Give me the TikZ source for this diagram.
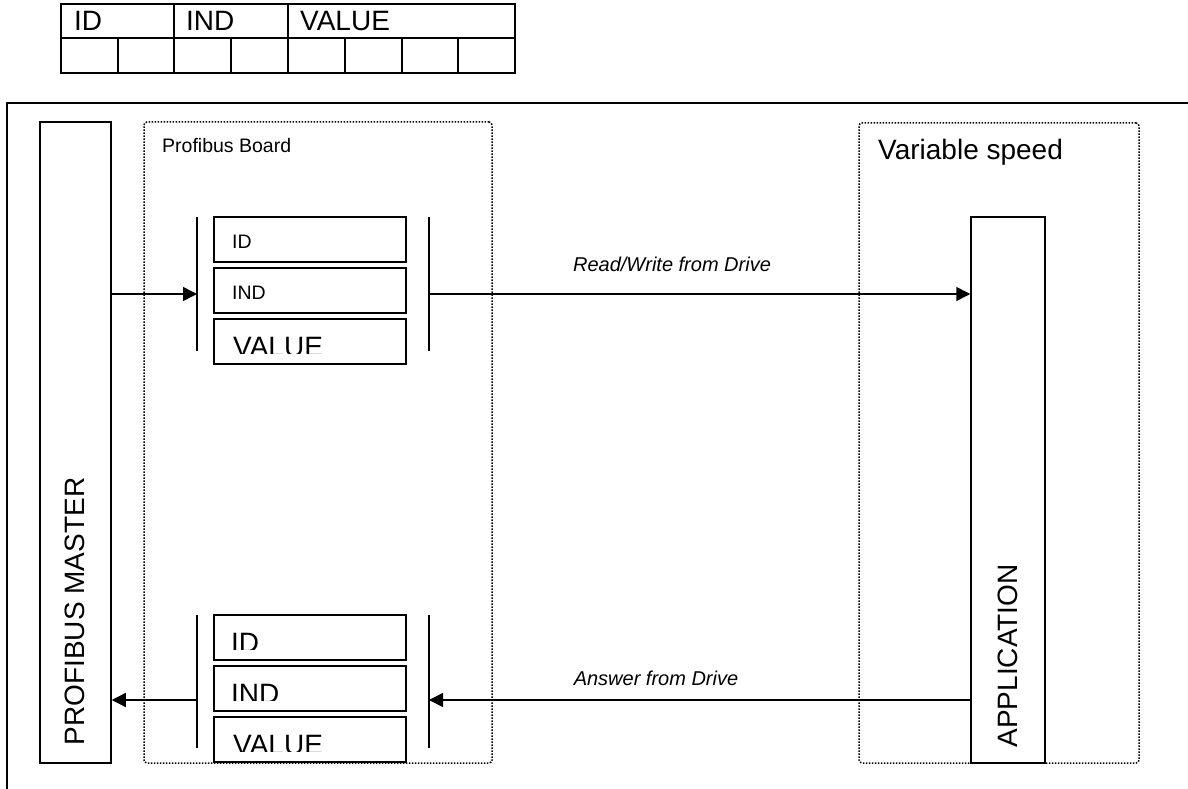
\documentclass[tikz,border=0pt]{standalone}
\usepackage{fontspec}
\setmainfont{Liberation Sans}
\usetikzlibrary{arrows.meta}
\tikzset{
  box/.style={draw, line width=1.5pt, inner sep=0pt},
  dotbox/.style={draw, line width=1.5pt, dash pattern=on 1.5pt off 1.5pt, rounded corners=3pt, inner sep=0pt},
  field/.style={box, minimum width=192pt, minimum height=45pt},
  small/.style={font=\fontsize{19.5}{23}\selectfont, inner sep=0pt},
  big/.style={font=\fontsize{28}{33}\selectfont, inner sep=0pt},
  arr/.style={draw, line width=1.5pt, -{Triangle[length=14pt,width=14pt]}}
}
\begin{document}
\begin{tikzpicture}[x=1pt,y=-1pt]
\useasboundingbox (0,0) rectangle (1188,789);
% telegram layout
\draw[line width=1.5pt] (61,4) rectangle (515,73);
\draw[line width=1.5pt] (61,38) -- (515,38);
\draw[line width=1.5pt] (174,4) -- (174,73) (288,4) -- (288,73);
\draw[line width=1.5pt] (118,38) -- (118,73) (231,38) -- (231,73) (345,38) -- (345,73) (402,38) -- (402,73) (458,38) -- (458,73);
\node[big, anchor=base west] (tid) at (74,31) {ID};
\node[big, anchor=base west] (tind) at (186,31) {IND};
\node[big, anchor=base west] (tval) at (300,31) {VALUE};
% frame
\draw[line width=2pt] (7,789) -- (7,103) -- (1188,103);
% master
\node[box, minimum width=71pt, minimum height=641pt] (master) at (75.5,442.5) {};
\node[big, rotate=90] (mastertxt) at (75,611.5) {PROFIBUS MASTER};
% board
\node[dotbox, minimum width=348pt, minimum height=641pt] (board) at (318,442.5) {};
\node[small, anchor=base west] (boardtxt) at (162,152) {Profibus Board};
% request fields
\node[field] (rid) at (310,239.5) {};
\node[field] (rind) at (310,290.5) {};
\node[field] (rval) at (310,341.5) {};
\node[small, anchor=base west] (ridtxt) at (232,248) {ID};
\node[small, anchor=base west] (rindtxt) at (232,299) {IND};
\begin{scope}
\clip (215,320) rectangle (405,353);
\node[big, anchor=base west] (rvaltxt) at (233,356) {VALUE};
\end{scope}
% answer fields
\node[field] (aid) at (310,637.5) {};
\node[field] (aind) at (310,688.5) {};
\node[field] (aval) at (310,739.5) {};
\begin{scope}
\clip (215,616) rectangle (405,649);
\node[big, anchor=base west] (aidtxt) at (231,652) {ID};
\end{scope}
\begin{scope}
\clip (215,667) rectangle (405,700);
\node[big, anchor=base west] (aindtxt) at (231,703) {IND};
\end{scope}
\begin{scope}
\clip (215,718) rectangle (405,751);
\node[big, anchor=base west] (avaltxt) at (233,754) {VALUE};
\end{scope}
% bars
\coordinate (rl1) at (197,217); \coordinate (rl2) at (197,351);
\coordinate (rr1) at (429,217); \coordinate (rr2) at (429,351);
\coordinate (al1) at (197,615); \coordinate (al2) at (197,748);
\coordinate (ar1) at (429,615); \coordinate (ar2) at (429,748);
\draw[line width=1.5pt] (rl1) -- (rl2) (rr1) -- (rr2) (al1) -- (al2) (ar1) -- (ar2);
% drive
\node[dotbox, minimum width=280pt, minimum height=640pt] (drive) at (999,443) {};
\node[big, anchor=base west] (drivetxt) at (878,159) {Variable speed};
\node[box, minimum width=74pt, minimum height=546pt] (app) at (1008,490) {};
\node[big, rotate=90] (apptxt) at (1008,656) {APPLICATION};
% messages
\coordinate (rw) at (0,294);
\coordinate (ans) at (0,700);
\path[arr] (master.east |- rw) -- (rl1 |- rw);
\path[arr] (rr1 |- rw) -- (app.west |- rw);
\path[arr] (app.west |- ans) -- (ar1 |- ans);
\path[arr] (al1 |- ans) -- (master.east |- ans);
\node[small, font=\fontsize{20}{24}\selectfont\itshape, anchor=base] (rwtxt) at (672,271) {Read/Write from Drive};
\node[small, font=\fontsize{20}{24}\selectfont\itshape, anchor=base] (anstxt) at (656,685) {Answer from Drive};
\end{tikzpicture}
\end{document}
